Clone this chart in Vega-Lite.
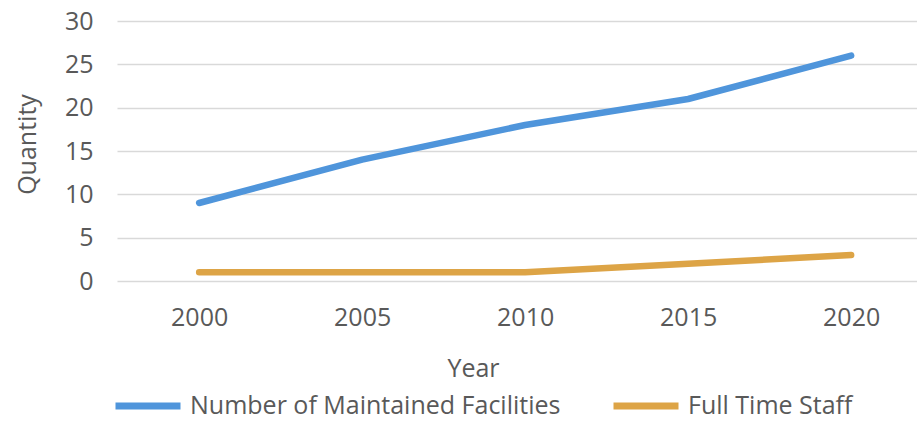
{
  "$schema": "https://vega.github.io/schema/vega-lite/v6.json",
  "width": 800,
  "height": 260,
  "autosize": {"type": "none"},
  "padding": {"left": 117, "top": 21, "right": 0, "bottom": 140},
  "background": "white",
  "config": {
    "view": {"stroke": null},
    "font": "Open Sans",
    "axis": {"labelFont": "Open Sans", "titleFont": "Open Sans", "labelColor": "#595959", "titleColor": "#595959", "labelFontSize": 25, "titleFontSize": 25, "titleFontWeight": "normal"},
    "legend": {"labelFont": "Open Sans", "labelColor": "#595959", "labelFontSize": 25}
  },
  "data": {
    "values": [
      {"Year": 2000, "Series": "Number of Maintained Facilities", "Quantity": 9},
      {"Year": 2005, "Series": "Number of Maintained Facilities", "Quantity": 14},
      {"Year": 2010, "Series": "Number of Maintained Facilities", "Quantity": 18},
      {"Year": 2015, "Series": "Number of Maintained Facilities", "Quantity": 21},
      {"Year": 2020, "Series": "Number of Maintained Facilities", "Quantity": 26},
      {"Year": 2000, "Series": "Full Time Staff", "Quantity": 1},
      {"Year": 2005, "Series": "Full Time Staff", "Quantity": 1},
      {"Year": 2010, "Series": "Full Time Staff", "Quantity": 1},
      {"Year": 2015, "Series": "Full Time Staff", "Quantity": 2},
      {"Year": 2020, "Series": "Full Time Staff", "Quantity": 3}
    ]
  },
  "mark": {"type": "line", "strokeWidth": 6.5, "strokeCap": "round", "strokeJoin": "round"},
  "encoding": {
    "x": {
      "field": "Year", "type": "quantitative",
      "scale": {"domain": [1997.48, 2022.02], "nice": false, "zero": false},
      "axis": {"values": [2000, 2005, 2010, 2015, 2020], "format": "d", "grid": false, "domain": false, "ticks": false, "labelPadding": 24, "title": "Year", "titlePadding": 26, "titleX": 356, "titleAnchor": "middle"}
    },
    "y": {
      "field": "Quantity", "type": "quantitative",
      "scale": {"domain": [0, 30], "nice": false},
      "axis": {"values": [0, 5, 10, 15, 20, 25, 30], "grid": true, "gridColor": "#D9D9D9", "gridWidth": 1.4, "domain": false, "ticks": false, "labelPadding": 24, "title": "Quantity", "titlePadding": 24, "titleY": 123}
    },
    "color": {
      "field": "Series", "type": "nominal",
      "scale": {"domain": ["Number of Maintained Facilities", "Full Time Staff"], "range": ["#4F95DB", "#DDA446"]},
      "legend": {"title": null, "orient": "none", "direction": "horizontal", "legendX": -5, "legendY": 349, "symbolType": "stroke", "symbolSize": 4225, "symbolStrokeWidth": 7, "labelOffset": 6, "columnPadding": 38, "labelLimit": 0, "padding": 0}
    }
  }
}
